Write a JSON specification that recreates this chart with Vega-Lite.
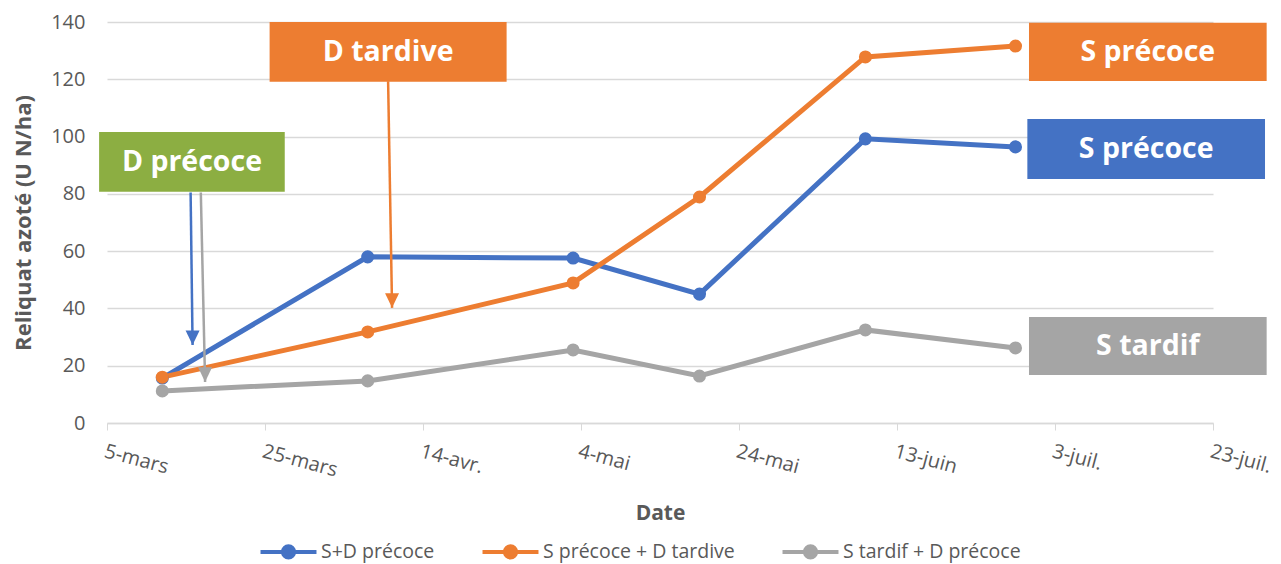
{
  "$schema": "https://vega.github.io/schema/vega-lite/v6.json",
  "autosize": "none",
  "width": 1106,
  "height": 401,
  "padding": {"left": 107, "top": 22, "right": 68, "bottom": 141},
  "config": {
    "view": {"stroke": null},
    "font": "Open Sans",
    "axis": {"labelFont": "Open Sans", "titleFont": "Open Sans", "labelColor": "#595959", "titleColor": "#595959"},
    "legend": {"labelFont": "Open Sans"}
  },
  "datasets": {
    "mesures": [
      {"date": "2021-03-12", "serie": "S+D précoce", "reliquat": 15.7},
      {"date": "2021-04-07", "serie": "S+D précoce", "reliquat": 58.0},
      {"date": "2021-05-03", "serie": "S+D précoce", "reliquat": 57.6},
      {"date": "2021-05-19", "serie": "S+D précoce", "reliquat": 45.0},
      {"date": "2021-06-09", "serie": "S+D précoce", "reliquat": 99.2},
      {"date": "2021-06-28", "serie": "S+D précoce", "reliquat": 96.4},
      {"date": "2021-03-12", "serie": "S précoce + D tardive", "reliquat": 16.0},
      {"date": "2021-04-07", "serie": "S précoce + D tardive", "reliquat": 31.8},
      {"date": "2021-05-03", "serie": "S précoce + D tardive", "reliquat": 48.9},
      {"date": "2021-05-19", "serie": "S précoce + D tardive", "reliquat": 78.9},
      {"date": "2021-06-09", "serie": "S précoce + D tardive", "reliquat": 127.8},
      {"date": "2021-06-28", "serie": "S précoce + D tardive", "reliquat": 131.6},
      {"date": "2021-03-12", "serie": "S tardif + D précoce", "reliquat": 11.2},
      {"date": "2021-04-07", "serie": "S tardif + D précoce", "reliquat": 14.7},
      {"date": "2021-05-03", "serie": "S tardif + D précoce", "reliquat": 25.5},
      {"date": "2021-05-19", "serie": "S tardif + D précoce", "reliquat": 16.4},
      {"date": "2021-06-09", "serie": "S tardif + D précoce", "reliquat": 32.5},
      {"date": "2021-06-28", "serie": "S tardif + D précoce", "reliquat": 26.2}
    ],
    "etiquettes": [
      {"texte": "D tardive", "groupe": "S précoce + D tardive", "debut": "2021-03-25T14:00:00Z", "fin": "2021-04-24T14:00:00Z", "bas": 119.1, "haut": 140},
      {"texte": "D précoce", "groupe": "commun", "debut": "2021-03-04T00:00:00Z", "fin": "2021-03-27T12:00:00Z", "bas": 80.7, "haut": 101.6},
      {"texte": "S précoce", "groupe": "S précoce + D tardive", "debut": "2021-06-29T17:00:00Z", "fin": "2021-07-29T19:00:00Z", "bas": 119.4, "haut": 139.7},
      {"texte": "S précoce", "groupe": "S+D précoce", "debut": "2021-06-29T12:00:00Z", "fin": "2021-07-29T14:00:00Z", "bas": 85.2, "haut": 106.1},
      {"texte": "S tardif", "groupe": "S tardif + D précoce", "debut": "2021-06-29T17:00:00Z", "fin": "2021-07-29T19:00:00Z", "bas": 16.8, "haut": 37.0}
    ],
    "fleches": [
      {"groupe": "S+D précoce", "depart": "2021-03-15T14:00:00Z", "arrivee": "2021-03-15T20:00:00Z", "haut": 80.5, "bas": 27.2},
      {"groupe": "S tardif + D précoce", "depart": "2021-03-16T21:00:00Z", "arrivee": "2021-03-17T10:00:00Z", "haut": 80.5, "bas": 14.3},
      {"groupe": "S précoce + D tardive", "depart": "2021-04-09T14:00:00Z", "arrivee": "2021-04-10T02:00:00Z", "haut": 119.3, "bas": 40.2}
    ]
  },
  "encoding": {
    "x": {
      "type": "temporal",
      "scale": {"type": "utc", "domain": [{"year": 2021, "month": 3, "date": 5, "utc": true}, {"year": 2021, "month": 7, "date": 23, "utc": true}]},
      "axis": {
        "title": "Date",
        "titleFontSize": 21,
        "titleFontWeight": "bold",
        "titlePadding": 22,
        "values": [
          {"year": 2021, "month": 3, "date": 5, "utc": true},
          {"year": 2021, "month": 3, "date": 25, "utc": true},
          {"year": 2021, "month": 4, "date": 14, "utc": true},
          {"year": 2021, "month": 5, "date": 4, "utc": true},
          {"year": 2021, "month": 5, "date": 24, "utc": true},
          {"year": 2021, "month": 6, "date": 13, "utc": true},
          {"year": 2021, "month": 7, "date": 3, "utc": true},
          {"year": 2021, "month": 7, "date": 23, "utc": true}
        ],
        "labelExpr": "utcdate(datum.value) + '-' + ['janv.','févr.','mars','avr.','mai','juin','juil.','août','sept.','oct.','nov.','déc.'][utcmonth(datum.value)]",
        "labelAngle": 15,
        "labelAlign": "left",
        "labelBaseline": "top",
        "labelFontSize": 20,
        "labelPadding": 11,
        "labelOverlap": false,
        "labelBound": false,
        "labelFlush": false,
        "grid": false,
        "tickSize": 7,
        "tickColor": "#D9D9D9",
        "domainColor": "#D9D9D9",
        "domainWidth": 1.5
      }
    },
    "y": {
      "type": "quantitative",
      "scale": {"domain": [0, 140], "nice": false},
      "axis": {
        "title": "Reliquat azoté (U N/ha)",
        "titleFontSize": 22,
        "titleFontWeight": "bold",
        "titlePadding": 15,
        "values": [0, 20, 40, 60, 80, 100, 120, 140],
        "labelFontSize": 20,
        "labelPadding": 22,
        "ticks": false,
        "domain": false,
        "grid": true,
        "gridColor": "#D9D9D9",
        "gridWidth": 1.5
      }
    },
    "color": {
      "type": "nominal",
      "scale": {
        "domain": ["S+D précoce", "S précoce + D tardive", "S tardif + D précoce", "commun"],
        "range": ["#4472C4", "#ED7D31", "#A5A5A5", "#8CAE42"]
      }
    }
  },
  "layer": [
    {
      "data": {"name": "etiquettes", "format": {"parse": {"debut": "date", "fin": "date"}}},
      "mark": {"type": "rect", "clip": false},
      "encoding": {
        "x": {"field": "debut", "type": "temporal"},
        "x2": {"field": "fin"},
        "y": {"field": "bas", "type": "quantitative"},
        "y2": {"field": "haut"},
        "color": {"field": "groupe", "type": "nominal"}
      }
    },
    {
      "data": {"name": "mesures"},
      "mark": {"type": "line", "strokeWidth": 5, "point": {"filled": true, "size": 170, "opacity": 1}},
      "encoding": {
        "x": {"field": "date", "type": "temporal"},
        "y": {"field": "reliquat", "type": "quantitative"},
        "color": {
          "field": "serie",
          "type": "nominal",
          "legend": {
            "title": null,
            "orient": "none",
            "legendX": 170,
            "legendY": 518,
            "direction": "horizontal",
            "values": ["S+D précoce", "S précoce + D tardive", "S tardif + D précoce"],
            "symbolType": "M-3,0L3,0M-0.6,0A0.6,0.6,0,1,1,0.6,0A0.6,0.6,0,1,1,-0.6,0Z",
            "symbolSize": 348,
            "symbolStrokeWidth": 4,
            "labelFontSize": 19.5,
            "labelLimit": 400,
            "labelColor": "#595959",
            "labelOffset": 21,
            "columnPadding": 39,
            "encode": {
              "symbols": {"update": {
                "shape": {"value": "M-3,0L3,0M-0.6,0A0.6,0.6,0,1,1,0.6,0A0.6,0.6,0,1,1,-0.6,0Z"},
                "size": {"value": 348},
                "strokeWidth": {"value": 4},
                "fill": {"scale": "color", "field": "value"},
                "stroke": {"scale": "color", "field": "value"},
                "opacity": {"value": 1},
                "fillOpacity": {"value": 1},
                "strokeOpacity": {"value": 1}
              }}
            }
          }
        }
      }
    },
    {
      "data": {"name": "fleches"},
      "mark": {"type": "rule", "strokeWidth": 2.5, "clip": false},
      "encoding": {
        "x": {"field": "depart", "type": "temporal"},
        "x2": {"field": "arrivee"},
        "y": {"field": "haut", "type": "quantitative"},
        "y2": {"field": "bas"},
        "color": {"field": "groupe", "type": "nominal"}
      }
    },
    {
      "data": {"name": "fleches"},
      "mark": {"type": "point", "filled": true, "opacity": 1, "shape": "M-1,-2.1L1,-2.1L0,0Z", "size": 196, "strokeWidth": 0},
      "encoding": {
        "x": {"field": "arrivee", "type": "temporal"},
        "y": {"field": "bas", "type": "quantitative"},
        "color": {"field": "groupe", "type": "nominal"}
      }
    },
    {
      "data": {"name": "etiquettes", "format": {"parse": {"debut": "date", "fin": "date"}}},
      "transform": [
        {"calculate": "(time(datum.debut) + time(datum.fin)) / 2", "as": "milieu"},
        {"calculate": "(datum.bas + datum.haut) / 2", "as": "centre"}
      ],
      "mark": {"type": "text", "color": "white", "fontWeight": "bold", "fontSize": 28.5, "baseline": "middle", "align": "center", "clip": false},
      "encoding": {
        "x": {"field": "milieu", "type": "temporal"},
        "y": {"field": "centre", "type": "quantitative"},
        "text": {"field": "texte"}
      }
    }
  ]
}
